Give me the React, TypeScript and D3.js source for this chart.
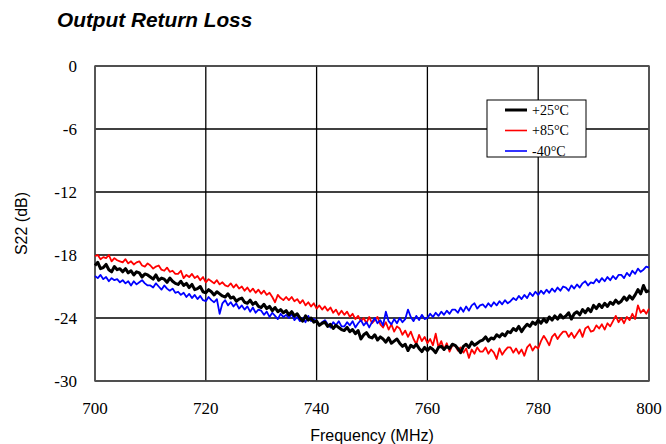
import * as d3 from "d3"

// frequency in MHz, 0.5 MHz steps
const freqs = d3.range(700, 800.25, 0.5)

const s22At25 = [
  -19.0, -18.7, -19.3, -19.2, -18.9, -19.4, -19.6, -19.1, -19.4, -19.3,
  -19.6, -19.3, -19.7, -19.5, -19.9, -19.6, -19.7, -20.1, -19.8, -19.9,
  -20.1, -20.3, -19.9, -20.4, -20.2, -20.3, -20.6, -20.2, -20.5, -20.7,
  -20.8, -20.5, -20.9, -20.7, -21.1, -20.8, -21.3, -21.2, -21.0, -21.5,
  -21.6, -21.3, -21.5, -21.8, -21.5, -21.7, -21.9, -22.0, -21.7, -22.1,
  -22.0, -22.4, -22.2, -22.1, -22.5, -22.6, -22.3, -22.7, -22.5, -22.9,
  -23.0, -22.7, -23.1, -22.9, -23.3, -23.0, -23.4, -23.2, -23.5, -23.3,
  -23.7, -23.4, -23.8, -23.6, -24.0, -24.3, -23.8, -24.2, -24.0, -24.4,
  -24.3, -24.7, -24.5, -24.4, -24.8, -24.6, -25.0, -24.7, -24.9, -25.1,
  -25.2, -24.9, -25.3, -25.1, -25.5, -25.2, -26.0, -25.6, -25.4, -25.8,
  -25.9, -25.6, -26.1, -25.8, -26.0, -26.3, -25.9, -26.4, -26.2, -26.0,
  -26.4, -26.7, -26.5, -27.1, -26.6, -26.8, -26.5, -26.9, -27.2, -26.8,
  -27.1, -26.8, -27.0, -27.3, -26.8, -26.7, -27.0, -26.7, -26.9, -26.5,
  -26.6, -26.9, -27.3, -26.7, -26.5, -26.8, -26.3, -26.6, -26.4, -26.2,
  -26.1, -25.8, -26.2, -25.9, -26.0, -25.6, -25.8, -25.5, -25.7, -25.3,
  -25.4, -25.0, -25.2, -24.8, -25.3, -24.9, -24.6, -24.8, -24.4, -24.6,
  -24.2, -24.5, -24.1, -24.4, -23.9, -24.2, -23.8, -24.1, -23.7, -24.0,
  -23.8, -23.5, -24.1, -23.6, -23.4, -23.7, -23.2, -23.5, -23.1, -23.4,
  -22.8, -23.1, -22.7, -23.0, -22.6, -22.9, -22.5, -22.7, -22.3, -22.6,
  -22.4, -22.0, -22.3, -21.9, -22.2, -21.8, -21.3, -21.7, -20.9, -21.5,
  -21.4,
]

const s22At85 = [
  -18.1, -18.0, -18.4, -18.2, -18.3, -18.0, -18.6, -18.3, -18.5, -18.6,
  -18.7, -18.4, -18.8, -18.6, -18.9, -18.7, -18.6, -19.0, -19.1, -18.8,
  -19.0, -19.3, -19.1, -19.0, -19.4, -19.5, -19.2, -19.6, -19.5, -19.8,
  -19.8, -19.5, -20.2, -19.9, -20.1, -19.8, -20.2, -20.0, -20.4, -20.1,
  -20.6, -20.3, -20.5, -20.7, -20.4, -20.8, -20.6, -20.9, -21.0, -20.7,
  -21.1, -20.8, -21.2, -21.0, -21.4, -21.1, -21.5, -21.2, -21.6, -21.3,
  -21.7, -21.4, -21.8, -21.6, -22.0, -22.5, -21.8, -22.1, -22.3, -22.0,
  -22.3, -22.0, -22.4, -22.2, -22.6, -22.3, -22.8, -22.5, -22.9, -22.6,
  -23.1, -22.8, -23.2, -22.9, -23.3, -23.0, -23.5, -23.2, -23.7, -23.3,
  -23.7, -23.4, -23.9, -23.6, -24.1, -23.8, -24.3, -24.0, -24.5, -23.9,
  -24.5, -24.2, -23.9, -24.6, -24.9, -24.4, -25.1, -24.6, -25.3, -24.8,
  -25.0, -25.6, -25.2, -25.8, -25.3, -26.0, -26.5, -25.6, -26.2, -25.8,
  -26.4, -26.0, -26.6, -25.5, -26.8, -26.2, -27.0, -26.4, -27.2, -26.6,
  -26.6, -27.1, -26.8, -27.3, -26.9, -27.8, -27.0, -27.4, -26.8, -27.2,
  -27.2, -26.8, -27.4, -27.0, -27.3, -27.9, -26.9, -27.5, -27.1, -26.8,
  -26.8, -27.3, -26.9, -27.4, -27.0, -27.6, -26.8, -26.5, -27.1, -26.7,
  -26.9, -26.2, -25.7, -26.1, -26.6, -25.8, -25.5, -26.0, -25.6, -25.3,
  -25.3, -25.8, -25.4, -25.9, -25.5, -25.1, -25.8, -25.0, -24.8, -25.3,
  -25.2, -24.7, -25.0, -24.6, -25.1, -24.5, -24.8, -24.3, -23.8, -24.4,
  -24.0, -24.5, -23.9, -24.2, -23.6, -24.1, -22.8, -23.5, -23.2, -23.6,
  -23.1,
]

const s22AtMinus40 = [
  -20.0, -20.2, -19.9, -20.3, -20.1, -20.5, -20.2, -20.4, -20.3, -20.6,
  -20.4, -20.7, -20.5, -20.9, -20.5, -20.8, -20.6, -20.4, -20.7, -20.9,
  -20.9, -21.1, -20.7, -21.0, -21.3, -20.9, -21.2, -21.4, -21.2, -21.6,
  -21.5, -21.8, -21.6, -22.0, -21.7, -22.1, -21.8, -22.2, -21.9, -22.3,
  -22.4, -22.0, -22.3, -22.5, -22.2, -23.6, -22.6, -22.3, -22.8, -22.5,
  -22.9, -22.6, -23.1, -22.8, -23.2, -22.9, -23.4, -23.0, -23.5, -23.2,
  -23.3, -23.7, -23.4, -23.9, -23.5, -23.8, -24.1, -23.6, -23.9, -23.7,
  -24.0, -23.6, -24.2, -23.9, -24.3, -24.0, -24.4, -23.8, -24.3, -24.1,
  -24.3, -24.7, -24.4, -24.2, -24.6, -24.9, -24.4, -24.7, -24.3, -24.8,
  -24.8, -24.4, -24.7, -24.3, -24.9, -24.5, -24.2, -24.7, -24.4, -24.9,
  -24.4, -24.0, -24.5, -24.2, -24.7, -23.4, -24.3, -24.6, -24.1, -24.5,
  -24.0, -24.4, -24.1, -23.2, -23.9, -24.3, -23.8, -24.2, -23.7, -24.1,
  -24.0, -23.6, -23.9, -23.5, -23.8, -23.4, -23.7, -23.3, -23.6, -23.2,
  -23.2, -23.5, -23.0, -23.4, -22.9, -23.3, -22.8, -22.6, -23.1, -22.8,
  -22.7, -23.0, -22.6, -22.9, -22.5, -22.8, -22.4, -22.7, -22.3, -22.6,
  -22.4, -22.1, -22.3, -21.9, -22.2, -21.8, -22.1, -21.6, -21.9, -21.5,
  -21.8, -21.4, -21.7, -21.3, -21.6, -21.2, -21.5, -21.1, -21.4, -21.0,
  -21.1, -21.4, -20.9, -21.2, -20.8, -21.1, -20.7, -20.5, -20.9, -20.6,
  -20.7, -20.3, -20.6, -20.2, -20.5, -20.1, -20.4, -20.0, -20.3, -19.9,
  -19.9, -20.2, -19.7, -20.0, -19.5, -19.8, -19.3, -19.6, -19.4, -19.1,
  -19.2,
]

const seriesNames = ["+25°C", "+85°C", "-40°C"]
const seriesColors = ["#000000", "#ff0000", "#0000ff"]
const seriesWidths = [3, 1.8, 1.8]
const seriesValues = [s22At25, s22At85, s22AtMinus40]

const xTicks = [700, 720, 740, 760, 780, 800]
const yTicks = [0, -6, -12, -18, -24, -30]

const width = 666
const height = 444
const margin = { top: 66, right: 17, bottom: 63, left: 95 }

export default function App() {
  const x = d3.scaleLinear().domain([700, 800]).range([margin.left, width - margin.right])
  const y = d3.scaleLinear().domain([-30, 0]).range([height - margin.bottom, margin.top])

  const line = d3
    .line<number>()
    .x((_, i) => x(freqs[i]))
    .y((d) => y(d))

  const serif = "'Liberation Serif', 'Times New Roman', serif"
  const sans = "'Liberation Sans', Arial, sans-serif"

  const legendX = 487
  const legendY = 100

  return (
    <svg
      width={width}
      height={height}
      style={{ position: "absolute", left: 0, top: 0, background: "#fff" }}
    >
      <text
        x={57}
        y={27}
        fontFamily={sans}
        fontSize={20.8}
        fontWeight="bold"
        fontStyle="italic"
      >
        Output Return Loss
      </text>

      {/* grid */}
      {xTicks.map((t) => (
        <line key={"gx" + t} x1={x(t)} x2={x(t)} y1={y(0)} y2={y(-30)} stroke="#000" strokeWidth={1.3} />
      ))}
      {yTicks.map((t) => (
        <line key={"gy" + t} x1={x(700)} x2={x(800)} y1={y(t)} y2={y(t)} stroke="#000" strokeWidth={1.3} />
      ))}
      <rect
        x={x(700)}
        y={y(0)}
        width={x(800) - x(700)}
        height={y(-30) - y(0)}
        fill="none"
        stroke="#555"
        strokeWidth={1.5}
      />

      {/* series */}
      {[1, 2, 0].map((k) => (
        <path
          key={seriesNames[k]}
          d={line(seriesValues[k]) || ""}
          fill="none"
          stroke={seriesColors[k]}
          strokeWidth={seriesWidths[k]}
          strokeLinejoin="round"
        />
      ))}

      {/* tick labels */}
      {yTicks.map((t) => (
        <text key={"ty" + t} x={77} y={y(t)} dy="0.35em" textAnchor="end" fontFamily={serif} fontSize={17}>
          {t}
        </text>
      ))}
      {xTicks.map((t) => (
        <text key={"tx" + t} x={x(t)} y={414} textAnchor="middle" fontFamily={serif} fontSize={17}>
          {t}
        </text>
      ))}

      <text x={x(750)} y={441} textAnchor="middle" fontFamily={sans} fontSize={16}>
        Frequency (MHz)
      </text>
      <text
        transform={`translate(27,${(y(0) + y(-30)) / 2}) rotate(-90)`}
        textAnchor="middle"
        fontFamily={sans}
        fontSize={16}
      >
        S22 (dB)
      </text>

      {/* legend */}
      <rect x={legendX} y={legendY} width={99} height={57} fill="#fff" stroke="#000" strokeWidth={1} />
      {seriesNames.map((name, i) => (
        <g key={name} transform={`translate(${legendX},${legendY + 10 + i * 20.5})`}>
          <line x1={18} x2={40} y1={0} y2={0} stroke={seriesColors[i]} strokeWidth={i === 0 ? 3 : 1.6} />
          <text x={45} y={0} dy="0.35em" fontFamily={serif} fontSize={14}>
            {name}
          </text>
        </g>
      ))}
    </svg>
  )
}
